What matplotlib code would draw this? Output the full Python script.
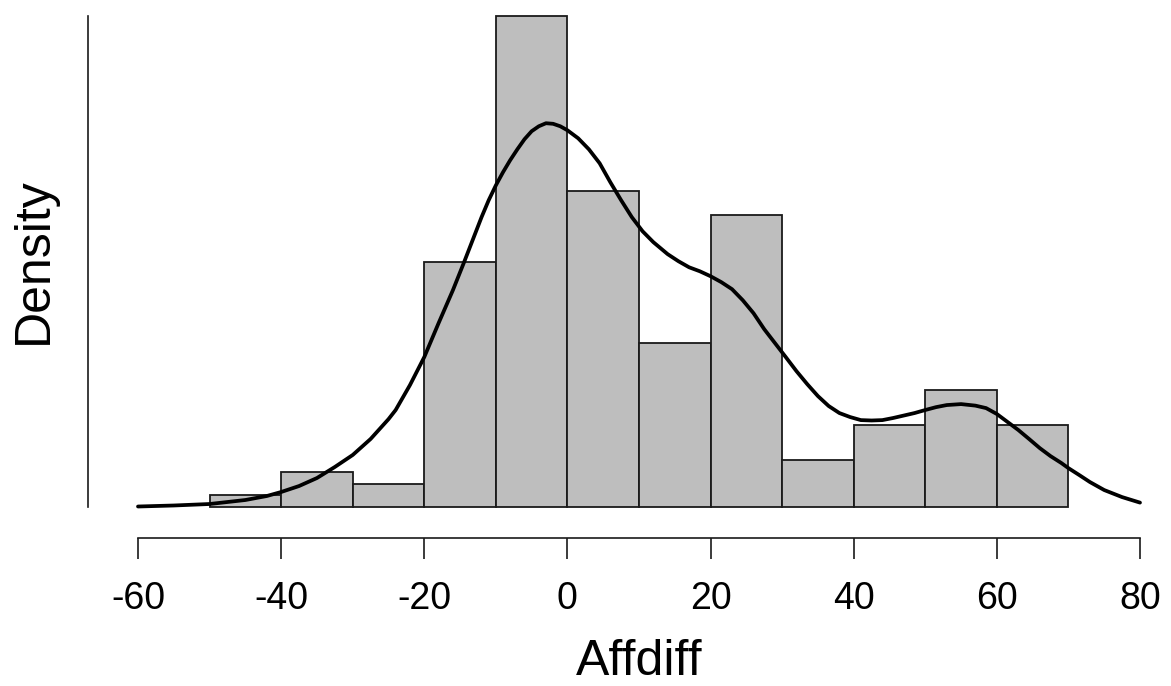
import numpy as np
import matplotlib.pyplot as plt

plt.rcParams['font.family'] = ['Liberation Sans', 'DejaVu Sans']
plt.rcParams['axes.unicode_minus'] = False

# histogram: bin edges and counts
bin_edges = [-50, -40, -30, -20, -10, 0, 10, 20, 30, 40, 50, 60, 70]
counts = [1, 3, 2, 21, 42, 27, 14, 25, 4, 7, 10, 7]

# density curve
kde_x = [-60, -55, -50, -45, -42, -40, -37.5, -35, -32.5, -30, -27.5, -25, -24,
         -22, -20, -18, -16, -14.5, -12, -11, -10, -9, -8, -7, -6, -5, -4, -3, -2,
         -1, 0, 1.5, 3, 4.5, 6, 7.5, 9, 10.5, 12, 14, 15.5, 17, 18.5, 20, 21.5,
         23, 24.5, 26, 27.5, 29, 30.5, 32, 33.5, 35, 36.5, 38, 39.5, 41, 42.5,
         44, 45.5, 47, 48.5, 50, 51.5, 53, 55, 57, 58.5, 60, 61.5, 63, 64.5, 66,
         67.5, 69, 70, 71.5, 73, 75, 77.5, 80]
kde_y = [0.000026, 0.000079, 0.000157, 0.000367, 0.000577, 0.000787, 0.00110,
         0.00152, 0.00210, 0.00273, 0.00357, 0.00461, 0.00509,
         0.00640, 0.00787, 0.00965, 0.01138, 0.01279, 0.01521, 0.01610, 0.01688,
         0.01757, 0.01820, 0.01877, 0.01930, 0.01972, 0.01998, 0.02014, 0.02011,
         0.01998, 0.01977, 0.01935, 0.01877, 0.01804, 0.01704, 0.01610, 0.01521,
         0.01447, 0.01390, 0.01327, 0.01290, 0.01258, 0.01237, 0.01211, 0.01180,
         0.01143, 0.01085, 0.01017, 0.00933, 0.00860, 0.00787, 0.00713, 0.00645,
         0.00582, 0.00530, 0.00493, 0.00472, 0.00456, 0.00454,
         0.00456, 0.00467, 0.00480, 0.00493, 0.00509, 0.00524, 0.00535, 0.00540,
         0.00532, 0.00519, 0.00488, 0.00446, 0.00404, 0.00357, 0.00309,
         0.00267, 0.00231, 0.00204, 0.00168, 0.00131, 0.00089, 0.00052, 0.00023]

W, H = 1171, 686
fig = plt.figure(figsize=(W / 100, H / 100), dpi=100)
# axes: x -60..80 -> px 138..1140, y 0 -> px 507, top bar -> px 16
ax = fig.add_axes([138 / W, 1 - 507 / H, 1002 / W, 491 / H])

n = sum(counts)
edges = np.array(bin_edges)
widths = np.diff(edges)
dens = np.array(counts) / (n * widths)

ax.bar(edges[:-1], dens, width=widths, align='edge', color='#bebebe',
       edgecolor='#1a1a1a', linewidth=1.3, clip_on=False, zorder=2)
ax.plot(kde_x, kde_y, color='black', linewidth=2.7, clip_on=False, zorder=3,
        solid_joinstyle='round', solid_capstyle='round')

ax.set_xlim(-60, 80)
ax.set_ylim(0, dens.max())

for s in ['top', 'right']:
    ax.spines[s].set_visible(False)
ax.spines['left'].set_position(('outward', 36))
ax.spines['left'].set_bounds(0, dens.max())
ax.spines['bottom'].set_position(('outward', 22))
ax.spines['bottom'].set_bounds(-60, 80)
for s in ['left', 'bottom']:
    ax.spines[s].set_linewidth(1.2)
    ax.spines[s].set_color('#1a1a1a')

ax.set_yticks([])
ax.set_xticks(range(-60, 81, 20))
ax.tick_params(axis='x', length=15, width=1.2, color='#1a1a1a',
               labelsize=27, pad=16)

fig.text(639 / W, 1 - 662 / H, 'Affdiff', fontsize=36, ha='center', va='center')
fig.text(34 / W, 1 - 261 / H, 'Density', fontsize=36, ha='center', va='center',
         rotation=90)

fig.savefig('out.png', dpi=100)
